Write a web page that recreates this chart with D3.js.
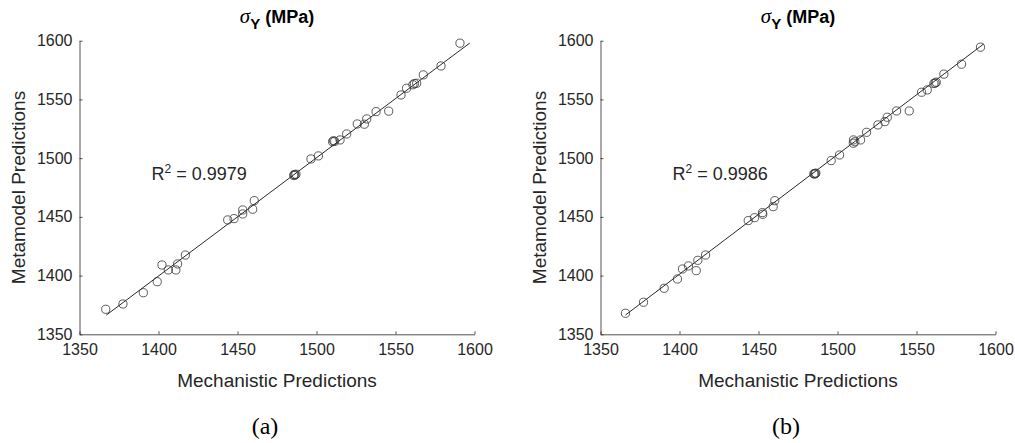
<!DOCTYPE html>
<html>
<head>
<meta charset="utf-8">
<script src="https://cdn.jsdelivr.net/npm/d3@7"></script>
<style>
  body { margin: 0; background: #fff; }
  svg text { font-family: Arial, "Liberation Sans", sans-serif; }
  svg .tick text { font-size: 16px; fill: #262626; }
  .domain, .tick line { stroke: #262626; }
  svg .t_label { font-size: 19px; fill: #262626; }
  svg .t_title { font-size: 18px; font-weight: bold; fill: #000; }
  svg .t_r2 { font-size: 18px; fill: #262626; }
  svg .t_cap { font-family: "Liberation Serif", "Times New Roman", serif; font-size: 24px; fill: #000; }
</style>
</head>
<body>
<svg width="1015" height="443"></svg>
<script>
/* ----------------------------------------------------------
data
---------------------------------------------------------- */

var ticks = [1350, 1400, 1450, 1500, 1550, 1600];

// (a)
var mechA = [1366.6, 1377.5, 1390.4, 1399.2, 1402.2, 1406.2, 1411.0, 1412.1, 1417.0,
  1443.8, 1447.8, 1453.3, 1453.3, 1459.6, 1460.6, 1485.6, 1486.4, 1487.0, 1485.9,
  1496.5, 1501.2, 1510.2, 1510.8, 1511.5, 1514.9, 1519.1, 1525.8, 1530.3, 1531.8,
  1537.7, 1545.7, 1553.5, 1557.0, 1561.0, 1562.0, 1563.4, 1567.6, 1578.8, 1590.8];
var metaA = [1371.3, 1375.8, 1385.4, 1394.8, 1409.0, 1404.8, 1404.8, 1409.9, 1417.5,
  1447.4, 1448.5, 1455.9, 1452.5, 1456.5, 1463.8, 1485.2, 1485.7, 1486.3, 1486.0,
  1499.3, 1501.9, 1514.0, 1514.8, 1514.3, 1515.5, 1520.6, 1529.1, 1528.9, 1533.4,
  1539.6, 1540.0, 1553.8, 1559.5, 1562.5, 1563.5, 1563.8, 1570.9, 1578.5, 1597.9];
var fitA = [[1367.0, 1366.4], [1597.0, 1598.0]];
var r2A = "0.9979";

// (b)
var mechB = [1365.8, 1377.2, 1390.3, 1398.7, 1401.9, 1405.7, 1410.6, 1411.6, 1416.5,
  1443.5, 1447.5, 1452.5, 1452.7, 1459.3, 1460.3, 1485.0, 1485.6, 1486.3, 1485.8,
  1496.0, 1501.3, 1510.1, 1510.0, 1511.0, 1514.6, 1518.4, 1525.6, 1530.0, 1531.5,
  1537.4, 1545.4, 1553.2, 1556.8, 1561.0, 1561.8, 1562.5, 1567.3, 1578.5, 1590.5];
var metaB = [1367.9, 1377.3, 1389.2, 1397.1, 1405.6, 1408.2, 1404.2, 1413.0, 1417.5,
  1446.8, 1449.3, 1453.6, 1452.2, 1458.7, 1463.8, 1486.6, 1486.5, 1487.2, 1487.0,
  1497.9, 1502.7, 1515.5, 1512.7, 1514.0, 1515.5, 1522.0, 1528.3, 1531.1, 1534.8,
  1540.2, 1540.2, 1556.1, 1558.1, 1563.5, 1564.0, 1564.7, 1571.5, 1580.0, 1594.5];
var fitB = [[1365.8, 1366.4], [1592.6, 1597.3]];
var r2B = "0.9986";

/* ----------------------------------------------------------
draw
---------------------------------------------------------- */

var svg = d3.select("svg");

function drawPanel(left, mech, meta, fit, r2, cap) {
  var w = 395, top = 40.7, h = 293.6;
  var g = svg.append("g").attr("transform", "translate(" + left + ",0)");

  var x = d3.scaleLinear().domain([1350, 1600]).range([0, w]);
  var y = d3.scaleLinear().domain([1350, 1600]).range([top + h, top]);

  // axes (ticks inward like matlab)
  g.append("g").attr("transform", "translate(0," + (top + h) + ")")
    .call(d3.axisBottom(x).tickValues(ticks).tickSize(-3).tickSizeOuter(0).tickPadding(9).tickFormat(d3.format("d")))
    .call(a => a.select(".domain").attr("stroke-width", 0.8));
  g.append("g")
    .call(d3.axisLeft(y).tickValues(ticks).tickSize(-3).tickSizeOuter(0).tickPadding(7).tickFormat(d3.format("d")))
    .call(a => a.select(".domain").attr("stroke-width", 0.8));
  g.selectAll(".tick line").attr("stroke-width", 0.8);

  // fit line
  g.append("line")
    .attr("x1", x(fit[0][0])).attr("y1", y(fit[0][1]))
    .attr("x2", x(fit[1][0])).attr("y2", y(fit[1][1]))
    .attr("stroke", "#111").attr("stroke-width", 0.9);

  // points
  g.selectAll(".pt").data(d3.range(mech.length)).enter().append("circle")
    .attr("class", "pt")
    .attr("cx", i => x(mech[i])).attr("cy", i => y(meta[i]))
    .attr("r", 4.1)
    .attr("fill", "none").attr("stroke", "#333").attr("stroke-width", 0.8);

  // title
  var t = g.append("text").attr("class", "t_title")
    .attr("x", w / 2).attr("y", 23).attr("text-anchor", "middle");
  t.append("tspan").attr("font-family", "'Liberation Serif', serif").attr("font-style", "italic")
    .attr("font-weight", "normal").attr("font-size", 21).text("σ");
  t.append("tspan").attr("dy", 6).attr("font-size", 15).text("Y");
  t.append("tspan").attr("dy", -6).text(" (MPa)");

  // labels
  g.append("text").attr("class", "t_label")
    .attr("x", w / 2).attr("y", 387).attr("text-anchor", "middle")
    .text("Mechanistic Predictions");
  g.append("text").attr("class", "t_label")
    .attr("transform", "translate(-55," + (top + h / 2) + ") rotate(-90)")
    .attr("text-anchor", "middle")
    .text("Metamodel Predictions");

  // r2
  var r = g.append("text").attr("class", "t_r2").attr("x", 72).attr("y", 180);
  r.append("tspan").text("R");
  r.append("tspan").attr("dy", -7).attr("font-size", 12).text("2");
  r.append("tspan").attr("dy", 7).text(" = " + r2);

  // caption
  g.append("text").attr("class", "t_cap")
    .attr("x", w / 2 - 12).attr("y", 434).attr("text-anchor", "middle")
    .text(cap);
}

drawPanel(79.5, mechA, metaA, fitA, r2A, "(a)");
drawPanel(600.5, mechB, metaB, fitB, r2B, "(b)");
</script>
</body>
</html>
